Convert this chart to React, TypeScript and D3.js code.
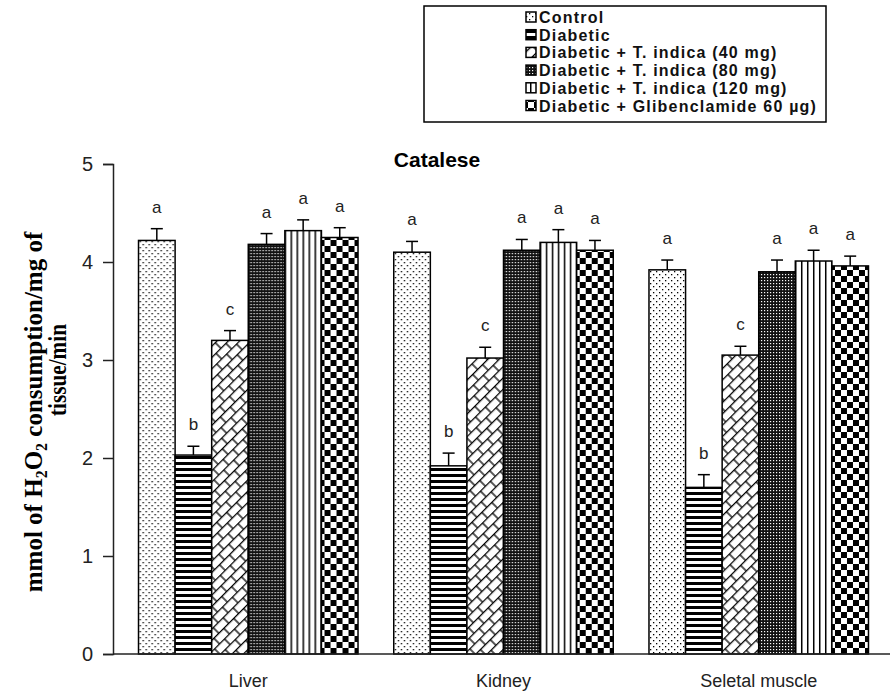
import { useEffect, useRef } from "react";
import * as d3 from "d3";

// Tissues on the x axis
const tissues = ["Liver", "Kidney", "Seletal muscle"];

// Treatment groups (legend order)
const groups = [
  "Control",
  "Diabetic",
  "Diabetic + T. indica (40 mg)",
  "Diabetic + T. indica (80 mg)",
  "Diabetic + T. indica (120 mg)",
  "Diabetic + Glibenclamide 60 µg)",
];

// Catalase activity, one array per tissue, in group order
const liverValues = [4.22, 2.03, 3.2, 4.18, 4.32, 4.25];
const kidneyValues = [4.1, 1.92, 3.02, 4.12, 4.2, 4.12];
const muscleValues = [3.92, 1.7, 3.05, 3.9, 4.01, 3.96];

// Error bar (SEM) per tissue
const liverErrors = [0.12, 0.09, 0.1, 0.11, 0.11, 0.1];
const kidneyErrors = [0.11, 0.13, 0.11, 0.11, 0.13, 0.1];
const muscleErrors = [0.1, 0.13, 0.09, 0.12, 0.11, 0.1];

// Significance letters above the bars
const letters = ["a", "b", "c", "a", "a", "a"];

const yTicks = [0, 1, 2, 3, 4, 5];

const patternIds = ["pDots", "pHoriz", "pBrick", "pFine", "pVert", "pCheck"];

const SANS = "Liberation Sans, Arial, sans-serif";
const SERIF = "Liberation Serif, Times New Roman, serif";

export default function App() {
  const ref = useRef<SVGSVGElement>(null);

  useEffect(() => {
    if (!ref.current) return;
    const svg = d3.select(ref.current);
    svg.selectAll("*").remove();

    const width = 890;
    const x0 = 113;
    const yBottom = 654;
    const yTop = 164;

    const values = [liverValues, kidneyValues, muscleValues];
    const errors = [liverErrors, kidneyErrors, muscleErrors];

    // fill patterns
    const defs = svg.append("defs");
    const pat = (id: string, w: number, h: number) =>
      defs.append("pattern").attr("id", id).attr("width", w).attr("height", h)
        .attr("patternUnits", "userSpaceOnUse");

    const dots = pat("pDots", 6, 6);
    dots.append("rect").attr("width", 6).attr("height", 6).attr("fill", "#fff");
    dots.append("rect").attr("x", 1).attr("y", 1).attr("width", 1.3).attr("height", 1.3).attr("fill", "#000");
    dots.append("rect").attr("x", 4).attr("y", 4).attr("width", 1.3).attr("height", 1.3).attr("fill", "#000");

    const horiz = pat("pHoriz", 6, 6);
    horiz.append("rect").attr("width", 6).attr("height", 6).attr("fill", "#fff");
    horiz.append("rect").attr("width", 6).attr("height", 3).attr("fill", "#000");

    // brick pattern turned by 45 degrees
    const brick = pat("pBrick", 14, 16).attr("patternTransform", "rotate(-45)");
    brick.append("rect").attr("width", 14).attr("height", 16).attr("fill", "#fff");
    brick.append("path").attr("d", "M0,0.6 H14 M0,8.6 H14 M1,0 V8.6 M8,8.6 V16")
      .attr("stroke", "#000").attr("stroke-width", 1.3).attr("fill", "none");

    const fine = pat("pFine", 3, 3);
    fine.append("rect").attr("width", 3).attr("height", 3).attr("fill", "#111");
    fine.append("rect").attr("x", 1).attr("y", 1).attr("width", 1.2).attr("height", 1.2).attr("fill", "#fff");

    const vert = pat("pVert", 6, 6);
    vert.append("rect").attr("width", 6).attr("height", 6).attr("fill", "#fff");
    vert.append("rect").attr("x", 2).attr("width", 1.5).attr("height", 6).attr("fill", "#000");

    const check = pat("pCheck", 12, 12);
    check.append("rect").attr("width", 12).attr("height", 12).attr("fill", "#fff");
    check.append("rect").attr("width", 6).attr("height", 6).attr("fill", "#000");
    check.append("rect").attr("x", 6).attr("y", 6).attr("width", 6).attr("height", 6).attr("fill", "#000");

    // scales
    const x = d3.scaleBand().domain(tissues).range([x0, 894]).paddingInner(0.14).paddingOuter(0.1);
    const xs = d3.scaleBand().domain(groups).range([0, x.bandwidth()]);
    const y = d3.scaleLinear().domain([0, 5]).range([yBottom, yTop]);

    // title
    svg.append("text").attr("x", 437).attr("y", 167).attr("text-anchor", "middle")
      .attr("font-family", SANS).attr("font-weight", "bold")
      .attr("font-size", 21).attr("fill", "#000").text("Catalese");

    // bars with error bars and letters
    tissues.forEach((t, ti) => {
      const g = svg.append("g").attr("transform", `translate(${x(t)},0)`);
      groups.forEach((grp, gi) => {
        const v = values[ti][gi];
        const e = errors[ti][gi];
        const bx = xs(grp) as number;
        const bw = xs.bandwidth();
        const cx = bx + bw / 2;
        g.append("line").attr("x1", cx).attr("x2", cx).attr("y1", y(v)).attr("y2", y(v + e))
          .attr("stroke", "#000").attr("stroke-width", 1.5);
        g.append("line").attr("x1", cx - 6).attr("x2", cx + 6).attr("y1", y(v + e)).attr("y2", y(v + e))
          .attr("stroke", "#000").attr("stroke-width", 1.5);
        g.append("rect").attr("x", bx).attr("y", y(v)).attr("width", bw).attr("height", y(0) - y(v))
          .attr("fill", `url(#${patternIds[gi]})`).attr("stroke", "#000").attr("stroke-width", 1.5);
        g.append("text").attr("x", cx).attr("y", y(v + e) - 16).attr("text-anchor", "middle")
          .attr("font-family", SANS).attr("font-size", 17)
          .attr("fill", "#222").text(letters[gi]);
      });
    });

    // y axis
    const ya = svg.append("g").attr("transform", `translate(${x0},0)`)
      .call(d3.axisLeft(y).tickValues(yTicks).tickSize(10).tickPadding(10).tickFormat(d3.format("d")));
    ya.select(".domain").attr("stroke", "#222").attr("stroke-width", 1.5);
    ya.selectAll(".tick line").attr("stroke", "#222").attr("stroke-width", 1.5);
    ya.selectAll(".tick text").attr("font-family", SANS)
      .attr("font-size", 20).attr("fill", "#222");

    // x axis
    svg.append("line").attr("x1", x0).attr("x2", width).attr("y1", yBottom).attr("y2", yBottom)
      .attr("stroke", "#222").attr("stroke-width", 1.5);
    tissues.forEach((t) => {
      svg.append("text").attr("x", (x(t) as number) + x.bandwidth() / 2).attr("y", 687)
        .attr("text-anchor", "middle").attr("font-family", SANS)
        .attr("font-size", 18).attr("fill", "#222").text(t);
    });

    // y axis title (two lines)
    const yt = svg.append("text").attr("transform", `translate(42,412) rotate(-90)`)
      .attr("text-anchor", "middle").attr("font-family", SERIF)
      .attr("font-weight", "bold").attr("font-size", 25).attr("fill", "#000");
    yt.append("tspan").text("mmol of H");
    yt.append("tspan").attr("font-size", 16).attr("dy", 5).text("2");
    yt.append("tspan").attr("dy", -5).text("O");
    yt.append("tspan").attr("font-size", 16).attr("dy", 5).text("2");
    yt.append("tspan").attr("dy", -5).text(" consumption/mg of");
    svg.append("text").attr("transform", `translate(66,370) rotate(-90)`)
      .attr("text-anchor", "middle").attr("font-family", SERIF)
      .attr("font-weight", "bold").attr("font-size", 25).attr("fill", "#000")
      .attr("textLength", 92).attr("lengthAdjust", "spacingAndGlyphs").text("tissue/min");

    // legend
    svg.append("rect").attr("x", 424).attr("y", 6).attr("width", 402).attr("height", 116)
      .attr("fill", "#fff").attr("stroke", "#000").attr("stroke-width", 1.5);
    groups.forEach((grp, gi) => {
      const ly = 17 + gi * 17.7;
      svg.append("rect").attr("x", 526).attr("y", ly - 5).attr("width", 10).attr("height", 10)
        .attr("fill", `url(#${patternIds[gi]})`).attr("stroke", "#000").attr("stroke-width", 1.5);
      svg.append("text").attr("x", 539).attr("y", ly + 6)
        .attr("font-family", SANS).attr("font-size", 16).attr("letter-spacing", 1.2)
        .attr("font-weight", "bold").attr("fill", "#111").text(grp);
    });
  }, []);

  return (
    <svg ref={ref} width={890} height={694}
      style={{ position: "absolute", left: 0, top: 0, background: "#fff" }} />
  );
}
